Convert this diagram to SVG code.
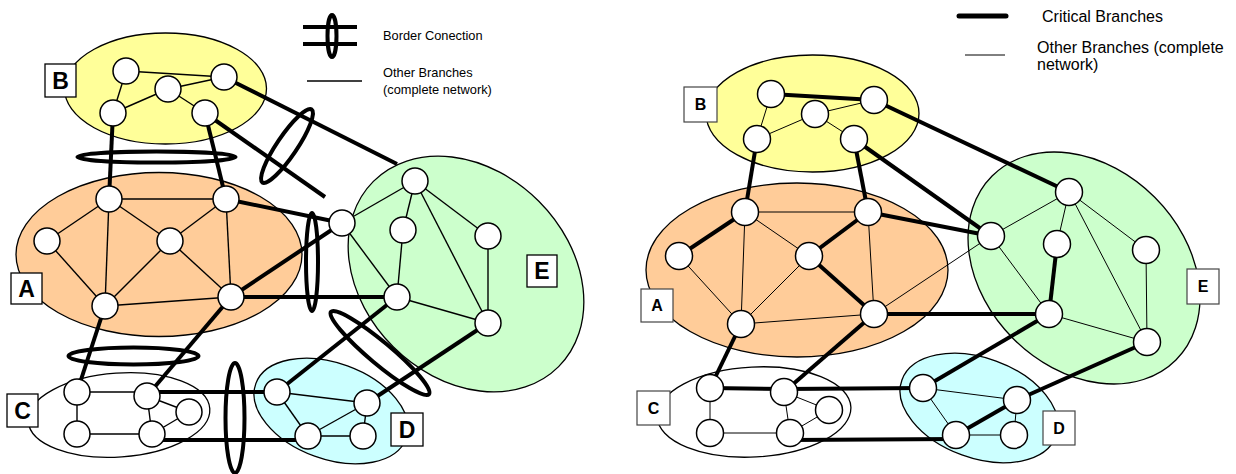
<svg xmlns="http://www.w3.org/2000/svg" width="1236" height="474" viewBox="0 0 1236 474">
  <style>
    .area { stroke: #000; stroke-width: 1.3; }
    .yel { fill: #FFFF99; }
    .org { fill: #FFCC99; }
    .grn { fill: #CCFFCC; }
    .cyn { fill: #CCFFFF; }
    .wht { fill: #FFFFFF; }
    .thin { stroke: #000; stroke-width: 1.4; fill: none; }
    .thinR { stroke: #000; stroke-width: 1; fill: none; }
    .thick { stroke: #000; stroke-width: 4; fill: none; stroke-linecap: butt; }
    .ring { stroke: #000; stroke-width: 4; fill: none; }
    .node { fill: #FFFFFF; stroke: #000; stroke-width: 1.5; }
    .lbox { fill: #FFFFFF; stroke: #000; stroke-width: 1.3; }
    .lboxR { fill: #FFFFFF; stroke: #444; stroke-width: 1.2; }
    .ltr { font-family: "Liberation Sans", Arial, sans-serif; font-weight: bold; font-size: 23px; text-anchor: middle; fill: #000; }
    .ltrR { font-family: "Liberation Sans", Arial, sans-serif; font-weight: bold; font-size: 16px; text-anchor: middle; fill: #000; }
    .leg { font-family: "Liberation Sans", Arial, sans-serif; font-size: 12.8px; fill: #000; }
    .legR { font-family: "Liberation Sans", Arial, sans-serif; font-size: 16px; fill: #000; }
  </style>

  <!-- ===== Left network: border connections ===== -->
  <g id="left-areas">
    <ellipse id="L-area-B" class="area yel" cx="165.5" cy="88.5" rx="101" ry="55.5"/>
    <ellipse id="L-area-A" class="area org" cx="159" cy="254.5" rx="143" ry="82"/>
    <ellipse id="L-area-E" class="area grn" cx="0" cy="0" rx="131" ry="103" transform="translate(466 274) rotate(45)"/>
    <ellipse id="L-area-C" class="area wht" cx="0" cy="0" rx="91" ry="42" transform="translate(119 415) rotate(-4)"/>
    <ellipse id="L-area-D" class="area cyn" cx="0" cy="0" rx="80" ry="48" transform="translate(331 411) rotate(20)"/>
  </g>

  <!-- ===== Right network: critical branches ===== -->
  <g id="right-areas">
    <ellipse id="R-area-B" class="area yel" cx="812.5" cy="113.5" rx="106.5" ry="58.5" stroke-width="1"/>
    <ellipse id="R-area-A" class="area org" cx="797" cy="270" rx="151" ry="87" stroke-width="1"/>
    <ellipse id="R-area-E" class="area grn" cx="0" cy="0" rx="130" ry="100" transform="translate(1084 268) rotate(45)" stroke-width="1"/>
    <ellipse id="R-area-C" class="area wht" cx="0" cy="0" rx="97" ry="45" transform="translate(754 412) rotate(-3)" stroke-width="1"/>
    <ellipse id="R-area-D" class="area cyn" cx="0" cy="0" rx="82" ry="50" transform="translate(979 408) rotate(20)" stroke-width="1"/>
  </g>

  <g id="connectors">
    <!-- left: branches inside areas -->
    <g class="thin">
      <line x1="126" y1="71" x2="224" y2="77"/>
      <line x1="126" y1="71" x2="113" y2="113"/>
      <line x1="113" y1="113" x2="168" y2="89"/>
      <line x1="168" y1="89" x2="224" y2="77"/>
      <line x1="168" y1="89" x2="205" y2="113"/>

      <line x1="109" y1="199" x2="226" y2="199"/>
      <line x1="109" y1="199" x2="47" y2="241"/>
      <line x1="109" y1="199" x2="170" y2="241"/>
      <line x1="109" y1="199" x2="105" y2="306"/>
      <line x1="226" y1="199" x2="170" y2="241"/>
      <line x1="226" y1="199" x2="231" y2="297"/>
      <line x1="47" y1="241" x2="105" y2="306"/>
      <line x1="170" y1="241" x2="105" y2="306"/>
      <line x1="170" y1="241" x2="231" y2="297"/>
      <line x1="105" y1="306" x2="231" y2="297"/>

      <line x1="415" y1="181" x2="342" y2="223"/>
      <line x1="415" y1="181" x2="403" y2="230"/>
      <line x1="415" y1="181" x2="488" y2="236"/>
      <line x1="415" y1="181" x2="488" y2="323"/>
      <line x1="403" y1="230" x2="397" y2="297"/>
      <line x1="488" y1="236" x2="488" y2="323"/>
      <line x1="342" y1="223" x2="397" y2="297"/>
      <line x1="397" y1="297" x2="488" y2="323"/>

      <line x1="77" y1="392" x2="147" y2="392"/>
      <line x1="77" y1="392" x2="77" y2="434"/>
      <line x1="77" y1="434" x2="152" y2="434"/>
      <line x1="147" y1="396" x2="152" y2="434"/>
      <line x1="147" y1="396" x2="189" y2="412"/>
      <line x1="189" y1="412" x2="152" y2="434"/>

      <line x1="277" y1="392" x2="367" y2="403"/>
      <line x1="277" y1="392" x2="308" y2="436"/>
      <line x1="308" y1="436" x2="367" y2="403"/>
      <line x1="367" y1="403" x2="363" y2="436"/>
      <line x1="308" y1="436" x2="363" y2="436"/>
    </g>
    <!-- left: branches between areas -->
    <g class="thick">
      <line x1="113" y1="113" x2="109" y2="199"/>
      <line x1="205" y1="113" x2="226" y2="199"/>
      <line x1="224" y1="77" x2="397" y2="164"/>
      <line x1="205" y1="113" x2="325" y2="197"/>
      <line x1="226" y1="199" x2="342" y2="223"/>
      <line x1="231" y1="297" x2="342" y2="223"/>
      <line x1="231" y1="297" x2="397" y2="297"/>
      <line x1="105" y1="306" x2="77" y2="392"/>
      <line x1="231" y1="297" x2="147" y2="396"/>
      <line x1="147" y1="392" x2="277" y2="392"/>
      <line x1="152" y1="440" x2="308" y2="440"/>
      <line x1="277" y1="392" x2="397" y2="297"/>
      <line x1="367" y1="403" x2="488" y2="323"/>
    </g>

    <!-- right: other branches -->
    <g class="thinR">
      <line x1="771" y1="94" x2="757" y2="139"/>
      <line x1="757" y1="139" x2="815" y2="114"/>
      <line x1="815" y1="114" x2="874" y2="100"/>
      <line x1="815" y1="114" x2="854" y2="139"/>

      <line x1="745" y1="212" x2="868" y2="212"/>
      <line x1="745" y1="212" x2="809" y2="256"/>
      <line x1="745" y1="212" x2="741" y2="324"/>
      <line x1="679" y1="256" x2="741" y2="324"/>
      <line x1="809" y1="256" x2="741" y2="324"/>
      <line x1="741" y1="324" x2="874" y2="314"/>
      <line x1="868" y1="212" x2="874" y2="314"/>
      <line x1="874" y1="314" x2="991" y2="236"/>

      <line x1="1069" y1="192" x2="991" y2="236"/>
      <line x1="1069" y1="192" x2="1057" y2="244"/>
      <line x1="1069" y1="192" x2="1146" y2="250"/>
      <line x1="1069" y1="192" x2="1147" y2="342"/>
      <line x1="991" y1="236" x2="1049" y2="314"/>
      <line x1="1146" y1="250" x2="1147" y2="342"/>
      <line x1="1049" y1="314" x2="1147" y2="342"/>

      <line x1="710" y1="388" x2="710" y2="433"/>
      <line x1="710" y1="433" x2="790" y2="433"/>
      <line x1="784" y1="392" x2="790" y2="433"/>
      <line x1="784" y1="392" x2="829" y2="410"/>
      <line x1="829" y1="410" x2="790" y2="433"/>

      <line x1="923" y1="388" x2="1017" y2="400"/>
      <line x1="923" y1="388" x2="956" y2="435"/>
      <line x1="1017" y1="400" x2="1014" y2="435"/>
      <line x1="956" y1="435" x2="1014" y2="435"/>
    </g>
    <!-- right: critical branches -->
    <g class="thick">
      <line x1="771" y1="94" x2="874" y2="100"/>
      <line x1="757" y1="139" x2="745" y2="212"/>
      <line x1="854" y1="139" x2="868" y2="212"/>
      <line x1="874" y1="100" x2="1069" y2="192"/>
      <line x1="854" y1="139" x2="991" y2="236"/>
      <line x1="745" y1="212" x2="679" y2="256"/>
      <line x1="868" y1="212" x2="809" y2="256"/>
      <line x1="809" y1="256" x2="874" y2="314"/>
      <line x1="868" y1="212" x2="991" y2="236"/>
      <line x1="874" y1="314" x2="1049" y2="314"/>
      <line x1="1057" y1="244" x2="1049" y2="314"/>
      <line x1="741" y1="324" x2="710" y2="388"/>
      <line x1="874" y1="314" x2="784" y2="392"/>
      <line x1="710" y1="388" x2="784" y2="389"/>
      <line x1="784" y1="389" x2="923" y2="388"/>
      <line x1="790" y1="440" x2="956" y2="439"/>
      <line x1="956" y1="435" x2="1017" y2="400"/>
      <line x1="1049" y1="314" x2="923" y2="388"/>
      <line x1="1147" y1="342" x2="1017" y2="400"/>
    </g>
  </g>

  <!-- border connection rings (left network) -->
  <g id="border-rings">
    <ellipse class="ring" cx="156.5" cy="157" rx="79" ry="5.5"/>
    <ellipse class="ring" cx="0" cy="0" rx="44" ry="10" transform="translate(287 146) rotate(-56)"/>
    <ellipse class="ring" cx="312" cy="262" rx="6" ry="49"/>
    <ellipse class="ring" cx="0" cy="0" rx="64" ry="11" transform="translate(380 353) rotate(40)"/>
    <ellipse class="ring" cx="133.5" cy="356" rx="65" ry="8.5"/>
    <ellipse class="ring" cx="235" cy="418" rx="9.5" ry="55"/>
  </g>

  <!-- left nodes -->
  <g id="L-B1"><circle class="node" cx="126" cy="71" r="13"/></g>
  <g id="L-B2"><circle class="node" cx="224" cy="77" r="13"/></g>
  <g id="L-B3"><circle class="node" cx="168" cy="89" r="13"/></g>
  <g id="L-B4"><circle class="node" cx="113" cy="113" r="13"/></g>
  <g id="L-B5"><circle class="node" cx="205" cy="113" r="13"/></g>
  <g id="L-A1"><circle class="node" cx="109" cy="199" r="13"/></g>
  <g id="L-A2"><circle class="node" cx="226" cy="199" r="13"/></g>
  <g id="L-A3"><circle class="node" cx="47" cy="241" r="13"/></g>
  <g id="L-A4"><circle class="node" cx="170" cy="241" r="13"/></g>
  <g id="L-A5"><circle class="node" cx="105" cy="306" r="13"/></g>
  <g id="L-A6"><circle class="node" cx="231" cy="297" r="13"/></g>
  <g id="L-E1"><circle class="node" cx="415" cy="181" r="13"/></g>
  <g id="L-E2"><circle class="node" cx="342" cy="223" r="13"/></g>
  <g id="L-E3"><circle class="node" cx="403" cy="230" r="13"/></g>
  <g id="L-E4"><circle class="node" cx="488" cy="236" r="13"/></g>
  <g id="L-E5"><circle class="node" cx="397" cy="297" r="13"/></g>
  <g id="L-E6"><circle class="node" cx="488" cy="323" r="13"/></g>
  <g id="L-C1"><circle class="node" cx="77" cy="392" r="13"/></g>
  <g id="L-C2"><circle class="node" cx="147" cy="396" r="13"/></g>
  <g id="L-C3"><circle class="node" cx="189" cy="412" r="13"/></g>
  <g id="L-C4"><circle class="node" cx="77" cy="434" r="13"/></g>
  <g id="L-C5"><circle class="node" cx="152" cy="434" r="13"/></g>
  <g id="L-D1"><circle class="node" cx="277" cy="392" r="13"/></g>
  <g id="L-D2"><circle class="node" cx="367" cy="403" r="13"/></g>
  <g id="L-D3"><circle class="node" cx="308" cy="436" r="13"/></g>
  <g id="L-D4"><circle class="node" cx="363" cy="436" r="13"/></g>

  <!-- right nodes -->
  <g id="R-B1"><circle class="node" cx="771" cy="94" r="13.5"/></g>
  <g id="R-B2"><circle class="node" cx="874" cy="100" r="13.5"/></g>
  <g id="R-B3"><circle class="node" cx="815" cy="114" r="13.5"/></g>
  <g id="R-B4"><circle class="node" cx="757" cy="139" r="13.5"/></g>
  <g id="R-B5"><circle class="node" cx="854" cy="139" r="13.5"/></g>
  <g id="R-A1"><circle class="node" cx="745" cy="212" r="13.5"/></g>
  <g id="R-A2"><circle class="node" cx="868" cy="212" r="13.5"/></g>
  <g id="R-A3"><circle class="node" cx="679" cy="256" r="13.5"/></g>
  <g id="R-A4"><circle class="node" cx="809" cy="256" r="13.5"/></g>
  <g id="R-A5"><circle class="node" cx="741" cy="324" r="13.5"/></g>
  <g id="R-A6"><circle class="node" cx="874" cy="314" r="13.5"/></g>
  <g id="R-E1"><circle class="node" cx="1069" cy="192" r="13.5"/></g>
  <g id="R-E2"><circle class="node" cx="991" cy="236" r="13.5"/></g>
  <g id="R-E3"><circle class="node" cx="1057" cy="244" r="13.5"/></g>
  <g id="R-E4"><circle class="node" cx="1146" cy="250" r="13.5"/></g>
  <g id="R-E5"><circle class="node" cx="1049" cy="314" r="13.5"/></g>
  <g id="R-E6"><circle class="node" cx="1147" cy="342" r="13.5"/></g>
  <g id="R-C1"><circle class="node" cx="710" cy="388" r="13.5"/></g>
  <g id="R-C2"><circle class="node" cx="784" cy="392" r="13.5"/></g>
  <g id="R-C3"><circle class="node" cx="829" cy="410" r="13.5"/></g>
  <g id="R-C4"><circle class="node" cx="710" cy="433" r="13.5"/></g>
  <g id="R-C5"><circle class="node" cx="790" cy="433" r="13.5"/></g>
  <g id="R-D1"><circle class="node" cx="923" cy="388" r="13.5"/></g>
  <g id="R-D2"><circle class="node" cx="1017" cy="400" r="13.5"/></g>
  <g id="R-D3"><circle class="node" cx="956" cy="435" r="13.5"/></g>
  <g id="R-D4"><circle class="node" cx="1014" cy="435" r="13.5"/></g>

  <!-- area labels -->
  <g id="L-label-B"><rect class="lbox" x="45" y="64" width="31" height="33"/><text class="ltr" x="60.5" y="89">B</text></g>
  <g id="L-label-A"><rect class="lbox" x="11" y="273" width="31" height="31"/><text class="ltr" x="26.5" y="297">A</text></g>
  <g id="L-label-C"><rect class="lbox" x="7" y="394" width="31" height="33"/><text class="ltr" x="22.5" y="419">C</text></g>
  <g id="L-label-D"><rect class="lbox" x="391" y="413" width="32" height="33"/><text class="ltr" x="407" y="438">D</text></g>
  <g id="L-label-E"><rect class="lbox" x="527" y="255" width="30" height="32"/><text class="ltr" x="542" y="279">E</text></g>

  <g id="R-label-B"><rect class="lboxR" x="684" y="87" width="33" height="35"/><text class="ltrR" x="700.5" y="110">B</text></g>
  <g id="R-label-A"><rect class="lboxR" x="641" y="289" width="32" height="33"/><text class="ltrR" x="657" y="311">A</text></g>
  <g id="R-label-C"><rect class="lboxR" x="637" y="391" width="33" height="34"/><text class="ltrR" x="653.5" y="414">C</text></g>
  <g id="R-label-D"><rect class="lboxR" x="1043" y="411" width="32" height="34"/><text class="ltrR" x="1059" y="434">D</text></g>
  <g id="R-label-E"><rect class="lboxR" x="1187" y="269" width="32" height="35"/><text class="ltrR" x="1203" y="292">E</text></g>

  <!-- legends -->
  <g id="legend-left">
    <line class="thick" x1="303" y1="27" x2="357" y2="27"/>
    <line class="thick" x1="303" y1="44" x2="357" y2="44"/>
    <ellipse class="ring" cx="332" cy="36" rx="4.5" ry="21" stroke-width="3.5"/>
    <text class="leg" x="383" y="40">Border Conection</text>
    <line x1="307" y1="81" x2="362" y2="81" stroke="#000" stroke-width="1.4"/>
    <text class="leg" x="383" y="77">Other Branches</text>
    <text class="leg" x="383" y="94">(complete network)</text>
  </g>
  <g id="legend-right">
    <line x1="959" y1="16" x2="1006" y2="16" stroke="#000" stroke-width="5" stroke-linecap="round"/>
    <text class="legR" x="1042" y="22">Critical Branches</text>
    <line x1="965" y1="55" x2="1005" y2="55" stroke="#000" stroke-width="1"/>
    <text class="legR" x="1037" y="53">Other Branches (complete</text>
    <text class="legR" x="1037" y="70">network)</text>
  </g>
</svg>
